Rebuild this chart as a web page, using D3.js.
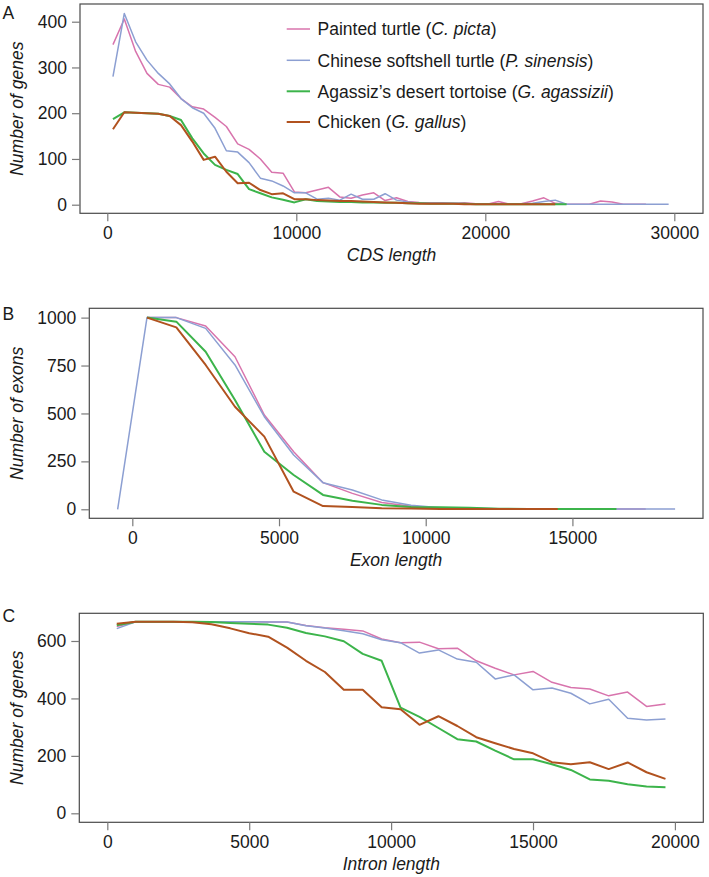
<!DOCTYPE html>
<html>
<head>
<meta charset="utf-8">
<script src="https://cdn.jsdelivr.net/npm/d3@7"></script>
<style>
html,body{margin:0;padding:0;background:#fff;}
svg{display:block;font-family:"Liberation Sans",Arial,Helvetica,sans-serif;}
</style>
</head>
<body>
<svg id="chart" width="709" height="877"></svg>
<script>
// ---------- DATA ----------
const speciesNames = ["Painted turtle", "Chinese softshell turtle", "Agassiz\u2019s desert tortoise", "Chicken"];
const speciesLatin = ["C. picta", "P. sinensis", "G. agassizii", "G. gallus"];
const speciesColors = ["#d874ad", "#8c9fd2", "#3cb44b", "#b1521f"];

// Panel A: CDS length
const cdsLength = [300,900,1500,2100,2700,3300,3900,4500,5100,5700,6300,6900,7500,8100,8700,9300,9900,10500,11100,11700,12300,12900,13500,14100,14700,15300,15900,16500,17100,17700,18300,18900,19500,20100,20700,21300,21900,22500,23100,23700,24300,24900,25500,26100,26700,27300,27900,28500,29100,29700];
const cdsPainted = [350,406,335,287,263,257,232,214,209,191,171,133,121,100,71,69,28,26,32,38,17,14,21,26,9,15,7,5,4,4,3,4,2,1,7,1,2,8,15,3,1,1,1,8,6,1,1,1];
const cdsSoftshell = [280,418,356,316,287,264,232,212,200,167,118,115,92,58,52,41,26,26,12,14,10,23,12,12,24,10,6,3,3,3,3,2,2,2,2,2,2,3,7,10,1,1,1,1,1,1,1,1,1,1];
const cdsTortoise = [187,202,201,200,199,194,185,145,112,87,76,67,34,25,16,11,5,12,8,7,6,6,5,5,4,4,3,3,2,2,2,2,1,1,1,1,1,1,1,1,1];
const cdsChicken = [165,202,201,200,199,194,174,138,98,105,72,47,48,32,23,25,12,12,10,9,8,8,7,6,5,4,3,2,2,2,2,1,1,1,1,1,1,1,1,1];

// Panel B: Exon length
const exonLength = [-500,500,1500,2500,3500,4500,5500,6500,7500,8500,9500,10500,11500,12500,13500,14500,15500,16500,17500,18500];
const exonPainted = [null,1000,1000,956,796,492,300,139,83,35,16,6,3,2,2,1,1,1,1];
const exonSoftshell = [0,1000,1000,944,753,483,283,139,101,49,21,8,5,3,2,2,1,1,1,1];
const exonTortoise = [null,1000,979,822,570,300,179,75,45,23,12,10,8,3,2,1,1,1];
const exonChicken = [null,1000,949,753,535,379,92,17,12,5,4,2,1,1,1,1];

// Panel C: Intron length
const intronLength = [333,1000,1667,2333,3000,3667,4333,5000,5667,6333,7000,7667,8333,9000,9667,10333,11000,11667,12333,13000,13667,14333,15000,15667,16333,17000,17667,18333,19000,19667];
const intronPainted = [650,667,667,667,667,667,667,667,666,666,654,646,641,635,607,594,596,573,575,531,505,482,494,456,438,433,409,422,372,381];
const intronSoftshell = [643,667,667,667,667,667,667,667,666,666,653,645,636,625,604,594,558,569,537,526,468,482,430,436,418,381,397,331,325,328];
const intronTortoise = [655,667,667,667,667,666,663,660,657,646,628,616,599,555,531,368,336,297,258,250,218,188,188,171,151,118,113,101,93,91];
const intronChicken = [660,667,667,667,665,658,644,627,615,577,531,492,430,430,369,362,308,338,304,265,244,224,209,178,171,178,154,177,143,120];

// Tick values
const cdsXTicks = [0,10000,20000,30000];
const cdsYTicks = [0,100,200,300,400];
const exonXTicks = [0,5000,10000,15000];
const exonYTicks = [0,250,500,750,1000];
const intronXTicks = [0,5000,10000,15000,20000];
const intronYTicks = [0,200,400,600];

// ---------- LAYOUT ----------
const FONT = 17.5;
const panels = [
  {letter:"A", box:{l:80, r:703, t:4, b:213.3}, xDom:[-1444,31518], yDom:[-18.8,438.7],
   x:cdsLength, series:[cdsPainted,cdsSoftshell,cdsTortoise,cdsChicken],
   xTicks:cdsXTicks, yTicks:cdsYTicks, xTitle:"CDS length", yTitle:"Number of genes", letterY:18.5, legend:true},
  {letter:"B", box:{l:89.3, r:703, t:308.3, b:518.3}, xDom:[-1466,19451], yDom:[-47,1048.6],
   x:exonLength, series:[exonPainted,exonSoftshell,exonTortoise,exonChicken],
   xTicks:exonXTicks, yTicks:exonYTicks, xTitle:"Exon length", yTitle:"Number of exons", letterY:319.5, legend:false},
  {letter:"C", box:{l:79.3, r:703.3, t:613.3, b:822.3}, xDom:[-987,21000], yDom:[-31.3,696.4],
   x:intronLength, series:[intronPainted,intronSoftshell,intronTortoise,intronChicken],
   xTicks:intronXTicks, yTicks:intronYTicks, xTitle:"Intron length", yTitle:"Number of genes", letterY:622, legend:false}
];
const lineWidths = [1.5,1.5,2,2];

const svg = d3.select("#chart");

panels.forEach(p => {
  const b = p.box;
  const xs = d3.scaleLinear().domain(p.xDom).range([b.l, b.r]);
  const ys = d3.scaleLinear().domain(p.yDom).range([b.b, b.t]);
  const g = svg.append("g");

  // lines
  p.series.forEach((vals, si) => {
    const pts = vals.map((v,i) => [p.x[i], v]).filter(d => d[1] !== null && d[1] !== undefined);
    g.append("path")
      .datum(pts)
      .attr("fill","none")
      .attr("stroke", speciesColors[si])
      .attr("stroke-width", lineWidths[si])
      .attr("stroke-linejoin","round")
      .attr("d", d3.line().x(d => xs(d[0])).y(d => ys(d[1])));
  });

  // box
  g.append("rect")
    .attr("x", b.l).attr("y", b.t)
    .attr("width", b.r - b.l).attr("height", b.b - b.t)
    .attr("fill","none").attr("stroke","#4a4a4a").attr("stroke-width",1.2);

  // x axis
  const xa = g.append("g").attr("transform", `translate(0,${b.b})`)
    .call(d3.axisBottom(xs).tickValues(p.xTicks).tickSize(8).tickPadding(5).tickFormat(d3.format("d")));
  xa.select(".domain").remove();
  xa.selectAll(".tick line").attr("stroke","#7a7a7a").attr("stroke-width",1.2);
  xa.selectAll(".tick text").attr("font-size",FONT).attr("fill","#1a1a1a")
    .attr("font-family",'"Liberation Sans",Arial,Helvetica,sans-serif');

  // y axis
  const ya = g.append("g").attr("transform", `translate(${b.l},0)`)
    .call(d3.axisLeft(ys).tickValues(p.yTicks).tickSize(8).tickPadding(5).tickFormat(d3.format("d")));
  ya.select(".domain").remove();
  ya.selectAll(".tick line").attr("stroke","#7a7a7a").attr("stroke-width",1.2);
  ya.selectAll(".tick text").attr("font-size",FONT).attr("fill","#1a1a1a")
    .attr("font-family",'"Liberation Sans",Arial,Helvetica,sans-serif');

  // axis titles
  g.append("text")
    .attr("x", (b.l + b.r)/2).attr("y", b.b + 48)
    .attr("text-anchor","middle").attr("font-size",FONT).attr("font-style","italic").attr("fill","#1a1a1a")
    .text(p.xTitle);
  const cy = (b.t + b.b)/2;
  g.append("text")
    .attr("transform", `translate(22.5,${cy}) rotate(-90)`)
    .attr("text-anchor","middle").attr("font-size",FONT).attr("font-style","italic").attr("fill","#1a1a1a")
    .text(p.yTitle);

  // panel letter
  g.append("text").attr("x",2.5).attr("y",p.letterY)
    .attr("font-size",FONT).attr("fill","#1a1a1a").text(p.letter);

  // legend
  if (p.legend) {
    const rows = [29, 60.3, 91.3, 122];
    speciesNames.forEach((nm, i) => {
      g.append("line").attr("x1",286.7).attr("x2",310).attr("y1",rows[i]).attr("y2",rows[i])
        .attr("stroke",speciesColors[i]).attr("stroke-width",lineWidths[i]);
      const t = g.append("text").attr("x",317.5).attr("y",rows[i]).attr("dy","0.36em")
        .attr("font-size",FONT).attr("fill","#1a1a1a");
      t.append("tspan").text(nm + " (");
      t.append("tspan").attr("font-style","italic").text(speciesLatin[i]);
      t.append("tspan").text(")");
    });
  }
});
</script>
</body>
</html>
